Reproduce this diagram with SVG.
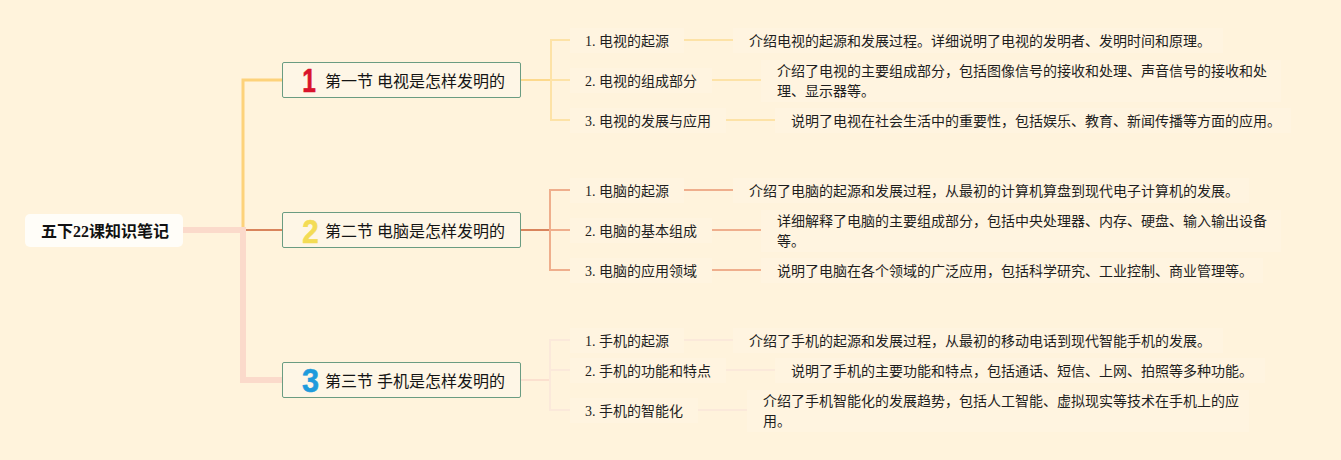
<svg xmlns="http://www.w3.org/2000/svg" width="1341" height="460" viewBox="0 0 1341 460">
<style>
text{font-family:"Liberation Serif","Noto Sans CJK SC",serif;fill:#1e1e1e}
.l{font-size:14px}
.d{font-size:14px}
.h{font-size:16px;fill:#141414}
.n{font-family:"Liberation Sans",sans-serif;font-size:34px;font-weight:700;text-anchor:middle;stroke-width:.6;stroke-linejoin:round}
.b{fill:#fef6e6;stroke:#6a9c82;stroke-width:1}
.p{fill:#fff4e0}
.c{fill:none}
</style>
<rect width="1341" height="460" fill="#fff3dc"/>
<g id="plates">
<rect class="p" x="570" y="28" width="114" height="25"/><rect class="p" x="733" y="28" width="490" height="25"/>
<rect class="p" x="570" y="68" width="142" height="25"/><rect class="p" x="761" y="60" width="520" height="42"/>
<rect class="p" x="570" y="108" width="156" height="25"/><rect class="p" x="775" y="108" width="516" height="25"/>
<rect class="p" x="570" y="178" width="114" height="25"/><rect class="p" x="733" y="178" width="516" height="25"/>
<rect class="p" x="570" y="218" width="142" height="25"/><rect class="p" x="761" y="210" width="520" height="42"/>
<rect class="p" x="570" y="258" width="142" height="25"/><rect class="p" x="761" y="258" width="502" height="25"/>
<rect class="p" x="570" y="328" width="114" height="25"/><rect class="p" x="733" y="328" width="490" height="25"/>
<rect class="p" x="570" y="358" width="156" height="25"/><rect class="p" x="775" y="358" width="490" height="25"/>
<rect class="p" x="570" y="398" width="128" height="25"/><rect class="p" x="747" y="390" width="502" height="42"/>
</g>
<g id="connectors">
<path class="c" d="M243 230V80H283" stroke="#fdd27a" stroke-width="3"/>
<path class="c" d="M243 230H283" stroke="#d9845c" stroke-width="2"/>
<path class="c" d="M183 230H243V380H283" stroke="#fbdacb" stroke-width="6"/>
<g stroke="#fde2a6" stroke-width="2" fill="none">
<path d="M521 80H550" stroke="#fdd98c"/>
<path d="M570 40H551V120H570M550 80H570"/>
<path d="M684 40H733M712 80H761M726 120H775"/>
</g>
<g stroke="#efae8c" stroke-width="2" fill="none">
<path d="M521 230H550" stroke="#d9845c"/>
<path d="M570 190H550V270H570M550 230H570"/>
<path d="M684 190H733M712 230H761M712 270H761"/>
</g>
<g stroke="#fbe9da" stroke-width="2" fill="none">
<path d="M521 380H550" stroke="#fbe0cf"/>
<path d="M570 340H550V410H570M550 370H570"/>
<path d="M684 340H733M726 370H775M698 410H747"/>
</g>
</g>
<g id="root"><rect x="25" y="214" width="158" height="33" rx="5" fill="#fffdf8"/><text x="41" y="237" style="font-size:16px;font-weight:700;fill:#111">五下22课知识笔记</text></g>
<g id="s1"><rect class="b" x="282.5" y="62.5" width="238" height="35" rx="1.5"/><text class="n" transform="translate(309 92) scale(.72 1)" style="fill:#d9142b;stroke:#d9142b">1</text><text class="h" x="325" y="87">第一节 电视是怎样发明的</text></g>
<g id="s2"><rect class="b" x="282.5" y="212.5" width="238" height="35" rx="1.5"/><text class="n" transform="translate(310.5 242.5) scale(.87 1)" style="fill:#f3dc55;stroke:#f3dc55">2</text><text class="h" x="325" y="237">第二节 电脑是怎样发明的</text></g>
<g id="s3"><rect class="b" x="282.5" y="362.5" width="238" height="35" rx="1.5"/><text class="n" transform="translate(310.5 392) scale(.9 1)" style="fill:#1e9bdc;stroke:#1e9bdc">3</text><text class="h" x="325" y="387">第三节 手机是怎样发明的</text></g>
<g id="t1"><text class="l" x="585" y="46">1. 电视的起源</text><text class="d" x="749" y="46">介绍电视的起源和发展过程。详细说明了电视的发明者、发明时间和原理。</text></g>
<g id="t2"><text class="l" x="585" y="86">2. 电视的组成部分</text><text class="d" x="777" y="76">介绍了电视的主要组成部分，包括图像信号的接收和处理、声音信号的接收和处</text><text class="d" x="777" y="96">理、显示器等。</text></g>
<g id="t3"><text class="l" x="585" y="126">3. 电视的发展与应用</text><text class="d" x="791" y="126">说明了电视在社会生活中的重要性，包括娱乐、教育、新闻传播等方面的应用。</text></g>
<g id="c1"><text class="l" x="585" y="196">1. 电脑的起源</text><text class="d" x="749" y="196">介绍了电脑的起源和发展过程，从最初的计算机算盘到现代电子计算机的发展。</text></g>
<g id="c2"><text class="l" x="585" y="236">2. 电脑的基本组成</text><text class="d" x="777" y="226">详细解释了电脑的主要组成部分，包括中央处理器、内存、硬盘、输入输出设备</text><text class="d" x="777" y="246">等。</text></g>
<g id="c3"><text class="l" x="585" y="276">3. 电脑的应用领域</text><text class="d" x="777" y="276">说明了电脑在各个领域的广泛应用，包括科学研究、工业控制、商业管理等。</text></g>
<g id="m1"><text class="l" x="585" y="346">1. 手机的起源</text><text class="d" x="749" y="346">介绍了手机的起源和发展过程，从最初的移动电话到现代智能手机的发展。</text></g>
<g id="m2"><text class="l" x="585" y="376">2. 手机的功能和特点</text><text class="d" x="791" y="376">说明了手机的主要功能和特点，包括通话、短信、上网、拍照等多种功能。</text></g>
<g id="m3"><text class="l" x="585" y="416">3. 手机的智能化</text><text class="d" x="763" y="406">介绍了手机智能化的发展趋势，包括人工智能、虚拟现实等技术在手机上的应</text><text class="d" x="763" y="426">用。</text></g>
</svg>
